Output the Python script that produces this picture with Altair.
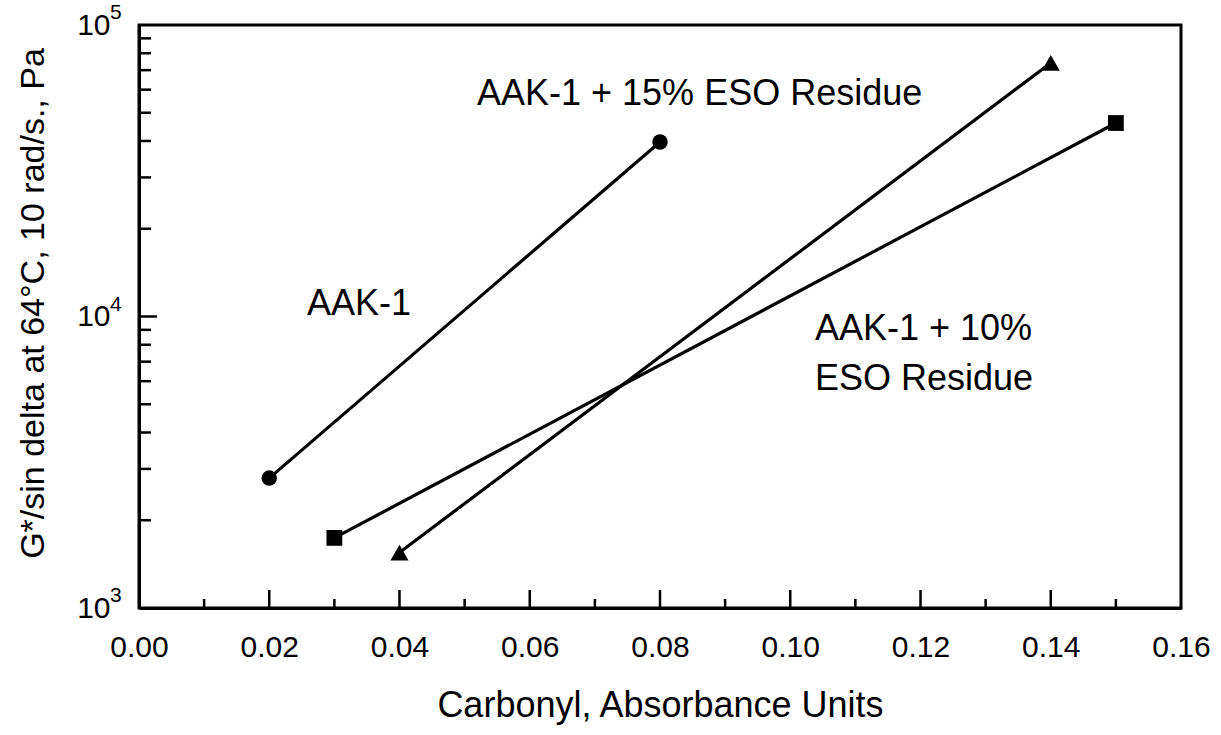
import altair as alt
import pandas as pd

# Data
series_names = ["AAK-1", "AAK-1 + 10% ESO Residue", "AAK-1 + 15% ESO Residue"]
aak1_x = [0.02, 0.08]
aak1_y = [2790, 39700]
eso10_x = [0.03, 0.15]
eso10_y = [1740, 46100]
eso15_x = [0.04, 0.14]
eso15_y = [1550, 74100]

x_tick_labels = [0.00, 0.02, 0.04, 0.06, 0.08, 0.10, 0.12, 0.14, 0.16]
x_major_ticks = [0.02, 0.04, 0.06, 0.08, 0.10, 0.12, 0.14]
x_minor_ticks = [0.01, 0.03, 0.05, 0.07, 0.09, 0.11, 0.13, 0.15]
y_tick_values = [1000, 10000, 100000]
y_tick_exponents = ["3", "4", "5"]
y_major_ticks = [10000]
y_minor_ticks = [2000, 3000, 4000, 5000, 6000, 7000, 8000, 9000,
                 20000, 30000, 40000, 50000, 60000, 70000, 80000, 90000]

ann_text = ["AAK-1 + 15% ESO Residue", "AAK-1", "AAK-1 + 10%", "ESO Residue"]
ann_x = [0.0519, 0.0258, 0.1038, 0.1038]
ann_y = [53200, 10120, 8300, 5600]

FONT = "Liberation Sans"
W, H = 1042, 583

rows = []
for name, xs, ys in [(series_names[0], aak1_x, aak1_y),
                     (series_names[1], eso10_x, eso10_y),
                     (series_names[2], eso15_x, eso15_y)]:
    for xv, yv in zip(xs, ys):
        rows.append({"series": name, "x": xv, "y": yv})
df = pd.DataFrame(rows)

xscale = alt.Scale(domain=[0, 0.16], nice=False, zero=False)
yscale = alt.Scale(type="log", domain=[1000, 100000], nice=False)

x_enc = alt.X("x:Q", scale=xscale,
              axis=alt.Axis(values=x_tick_labels, format=".2f", ticks=False, grid=False,
                            domainColor="black", domainWidth=3,
                            labelFont=FONT, labelFontSize=30, labelColor="black",
                            labelPadding=24, labelFlush=False,
                            title="Carbonyl, Absorbance Units", titleFont=FONT,
                            titleFontSize=36, titleFontWeight="normal", titleColor="black",
                            titlePadding=26))
y_enc = alt.Y("y:Q", scale=yscale,
              axis=alt.Axis(values=y_tick_values, ticks=False, grid=False,
                            domainColor="black", domainWidth=3,
                            labelExpr="'10'",
                            labelFont=FONT, labelFontSize=30, labelColor="black",
                            labelPadding=29, labelFlush=False,
                            title="G*/sin delta at 64°C, 10 rad/s., Pa", titleFont=FONT,
                            titleFontSize=34, titleFontWeight="normal", titleColor="black",
                            titlePadding=26, titleY=278))

lines = alt.Chart(df).mark_line(color="black", strokeWidth=3.2).encode(
    x=x_enc, y=y_enc, detail="series:N")

shapes = {series_names[0]: ("circle", 240), series_names[1]: ("square", 250),
          series_names[2]: ("triangle-up", 330)}
pts = []
for name, (shp, sz) in shapes.items():
    pts.append(alt.Chart(df).transform_filter(alt.datum.series == name).mark_point(
        shape=shp, size=sz, filled=True, color="black", opacity=1).encode(
        x=alt.X("x:Q", scale=xscale), y=alt.Y("y:Q", scale=yscale)))

ann_df = pd.DataFrame({"t": ann_text, "x": ann_x, "y": ann_y})
ann = alt.Chart(ann_df).mark_text(font=FONT, fontSize=36, align="left",
                                  baseline="alphabetic", color="black").encode(
    x=alt.X("x:Q", scale=xscale), y=alt.Y("y:Q", scale=yscale), text="t:N")

exp_df = pd.DataFrame({"y": y_tick_values, "e": y_tick_exponents})
exps = alt.Chart(exp_df).mark_text(font=FONT, fontSize=21, align="left",
                                   baseline="middle", color="black", dy=-12).encode(
    y=alt.Y("y:Q", scale=yscale), x=alt.value(-29), text="e:N")

xmaj = alt.Chart(pd.DataFrame({"x": x_major_ticks})).mark_rule(color="black", strokeWidth=2.5).encode(
    x=alt.X("x:Q", scale=xscale), y=alt.value(H), y2=alt.value(H - 18))
xmin = alt.Chart(pd.DataFrame({"x": x_minor_ticks})).mark_rule(color="black", strokeWidth=2.5).encode(
    x=alt.X("x:Q", scale=xscale), y=alt.value(H), y2=alt.value(H - 9))
ymaj = alt.Chart(pd.DataFrame({"y": y_major_ticks})).mark_rule(color="black", strokeWidth=2.5).encode(
    y=alt.Y("y:Q", scale=yscale), x=alt.value(0), x2=alt.value(18))
ymin = alt.Chart(pd.DataFrame({"y": y_minor_ticks})).mark_rule(color="black", strokeWidth=2.5).encode(
    y=alt.Y("y:Q", scale=yscale), x=alt.value(0), x2=alt.value(12))

chart = alt.layer(lines, *pts, ann, exps, xmaj, xmin, ymaj, ymin).properties(
    width=W, height=H,
    autosize=alt.AutoSizeParams(type="none"),
    padding={"left": 139, "top": 25, "right": 40, "bottom": 127},
    background="white",
).configure_view(stroke="black", strokeWidth=3)

chart.save("out.html", embed_options={"renderer": "svg", "actions": False})
